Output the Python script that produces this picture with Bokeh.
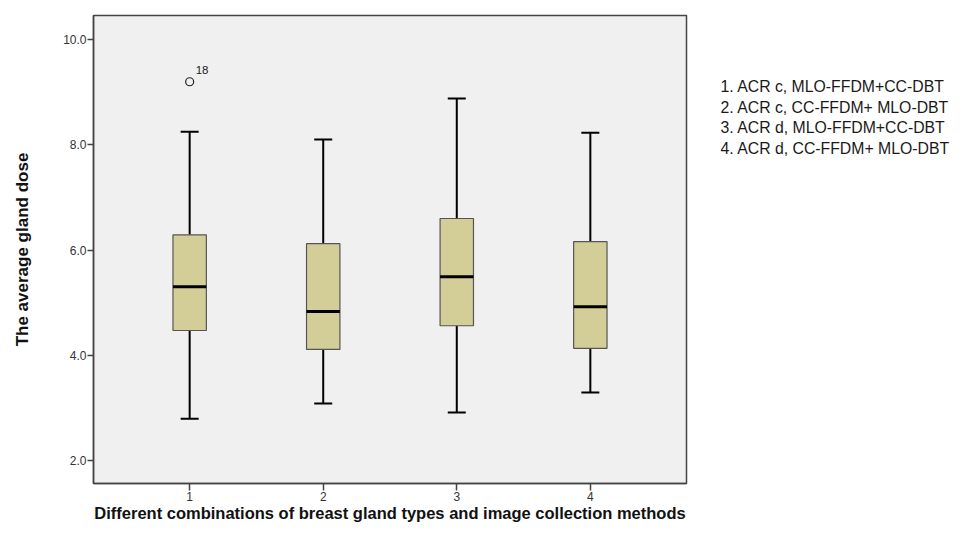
from bokeh.plotting import figure
from bokeh.layouts import row
from bokeh.models import Range1d, FixedTicker, NumeralTickFormatter, ColumnDataSource
from bokeh.core.properties import value
from bokeh.embed import file_html
from bokeh.resources import INLINE

# ---- data ----
groups = [1, 2, 3, 4]
whisker_low = [2.79, 3.08, 2.91, 3.29]
q1 = [4.47, 4.11, 4.56, 4.13]
median = [5.30, 4.83, 5.49, 4.92]
q3 = [6.29, 6.12, 6.60, 6.16]
whisker_high = [8.25, 8.10, 8.88, 8.23]
outlier_group = [1]
outlier_value = [9.2]
outlier_label = ["18"]
y_ticks = [2, 4, 6, 8, 10]
legend_lines = [
    "1. ACR c, MLO-FFDM+CC-DBT",
    "2. ACR c, CC-FFDM+ MLO-DBT",
    "3. ACR d, MLO-FFDM+CC-DBT",
    "4. ACR d, CC-FFDM+ MLO-DBT",
]

FONT = "Liberation Sans"
box_w = 0.25
H = 525
FRAME_H = 468

src = ColumnDataSource(dict(
    g=groups, lo=whisker_low, q1=q1, med=median, q3=q3, hi=whisker_high,
    gl=[g - box_w / 2 for g in groups], gr=[g + box_w / 2 for g in groups],
))

p = figure(width=716, height=H, output_backend="svg", toolbar_location=None,
           x_range=Range1d(0.28, 4.72), y_range=Range1d(1.56, 10.46),
           min_border_left=93, min_border_right=30, min_border_top=15, min_border_bottom=42)

p.background_fill_color = "#F0F0F0"
p.border_fill_color = "white"
p.outline_line_color = "#444444"
p.outline_line_width = 1.5
p.xgrid.visible = False
p.ygrid.visible = False

# whisker stems
p.segment(x0="g", y0="lo", x1="g", y1="q1", source=src, line_color="black", line_width=2)
p.segment(x0="g", y0="q3", x1="g", y1="hi", source=src, line_color="black", line_width=2)
# caps
p.scatter(x="g", y="lo", source=src, marker="dash", size=18, line_color="black", line_width=2)
p.scatter(x="g", y="hi", source=src, marker="dash", size=18, line_color="black", line_width=2)
# boxes
p.vbar(x="g", width=box_w, bottom="q1", top="q3", source=src,
       fill_color="#D3CE98", line_color="#555555", line_width=1.2)
# medians
p.segment(x0="gl", y0="med", x1="gr", y1="med", source=src, line_color="black", line_width=3)

# outlier
p.scatter(x=outlier_group, y=outlier_value, marker="circle", size=8,
          fill_color=None, line_color="#222222", line_width=1.2)
p.text(x=outlier_group, y=outlier_value, text=outlier_label, x_offset=6, y_offset=-8,
       text_font=value(FONT), text_font_size="11.5px", text_color="#222222",
       text_baseline="bottom", text_align="left")

# axes
p.xaxis.ticker = FixedTicker(ticks=groups)
p.yaxis.ticker = FixedTicker(ticks=y_ticks)
p.yaxis.formatter = NumeralTickFormatter(format="0.0")
for ax in (p.xaxis, p.yaxis):
    ax.axis_line_color = "#444444"
    ax.axis_line_width = 1.5
    ax.major_tick_line_color = "#444444"
    ax.major_tick_line_width = 1.5
    ax.major_tick_in = 0
    ax.minor_tick_line_color = None
    ax.major_label_text_font = FONT
    ax.major_label_text_font_size = "12px"
    ax.major_label_text_color = "#333333"
    ax.axis_label_text_font = FONT
    ax.axis_label_text_font_style = "bold"
    ax.axis_label_text_color = "#111111"

p.yaxis.major_tick_out = 6
p.yaxis.major_label_standoff = 1
p.yaxis.axis_label = "The average gland dose"
p.yaxis.axis_label_text_font_size = "17px"
p.yaxis.axis_label_standoff = 28

p.xaxis.major_tick_out = 7
p.xaxis.major_label_standoff = 1
p.xaxis.axis_label = "Different combinations of breast gland types and image collection methods"
p.xaxis.axis_label_text_font_size = "16.5px"
p.xaxis.axis_label_standoff = 0

# legend text panel at the right (pixel coordinates within its frame, y downwards;
# the row aligns this frame with the main plot frame)
LW = 235
leg = figure(frame_width=LW, frame_height=FRAME_H, output_backend="svg", toolbar_location=None,
             x_range=Range1d(0, LW), y_range=Range1d(FRAME_H, 0),
             x_axis_type=None, y_axis_type=None, title=None,
             min_border=0, outline_line_color=None)
leg.grid.visible = False
leg.background_fill_color = "white"
leg.border_fill_color = "white"
leg_x = [4] * len(legend_lines)
leg_y = [71 + i * 20.5 for i in range(len(legend_lines))]
leg.text(x=leg_x, y=leg_y, text=legend_lines, text_font=value(FONT),
         text_font_size="15.8px", text_color="#1a1a1a",
         text_baseline="middle", text_align="left")

layout = row(p, leg, spacing=0)
open("out.html", "w").write(file_html(layout, INLINE))
